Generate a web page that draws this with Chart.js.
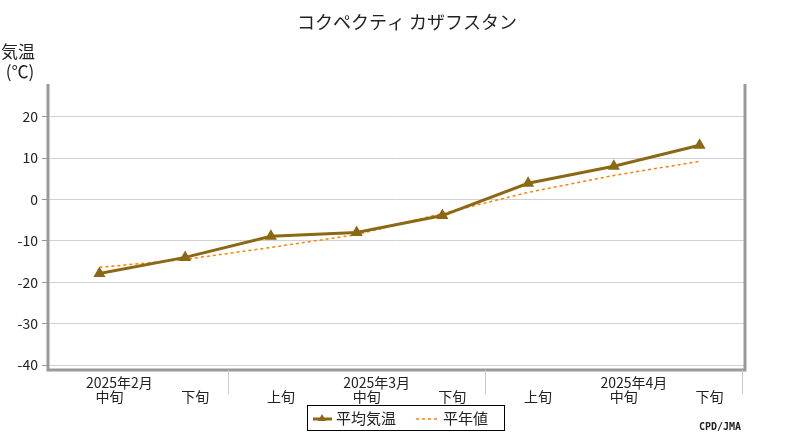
<!DOCTYPE html>
<html>
<head>
<meta charset="utf-8">
<script src="https://cdn.jsdelivr.net/npm/chart.js@4"></script>
<style>
  body { margin: 0; background: #fff; }
  #wrap { width: 800px; height: 440px; }
</style>
</head>
<body>
<div id="wrap"><canvas id="c" width="800" height="440"></canvas></div>
<script>
'use strict';
const months = ['2025年2月', '', '', '2025年3月', '', '', '2025年4月', ''];
const dekads = ['中旬', '下旬', '上旬', '中旬', '下旬', '上旬', '中旬', '下旬'];
const meanTemp = [-17.9, -14.0, -8.9, -8.0, -3.9, 3.9, 8.0, 13.1];
const normalTemp = [-16.4, -14.5, -11.6, -8.5, -3.4, 1.7, 5.8, 9.2];
const yTicks = [-40, -30, -20, -10, 0, 10, 20];
const monthBreaks = [1.5, 4.5, 7.5];

const FONT = '"Noto Sans CJK JP", "DejaVu Sans", sans-serif';
const BROWN = '#8b6914';
const ORANGE = '#ff8000';

const decorations = {
  id: 'decorations',
  afterDraw(chart) {
    const ctx = chart.ctx;
    const a = chart.chartArea;
    const xs = chart.scales.x;
    ctx.save();
    // frame
    ctx.strokeStyle = '#999';
    ctx.lineWidth = 3;
    ctx.beginPath();
    ctx.moveTo(a.left, a.top - 2);
    ctx.lineTo(a.left, a.bottom);
    ctx.lineTo(a.right, a.bottom);
    ctx.lineTo(a.right, a.top - 2);
    ctx.stroke();
    // month separators
    ctx.strokeStyle = '#ccc';
    ctx.lineWidth = 1;
    monthBreaks.forEach(b => {
      const x = Math.round(xs.getPixelForValue(b)) + 0.5;
      ctx.beginPath();
      ctx.moveTo(x, a.bottom);
      ctx.lineTo(x, a.bottom + 24);
      ctx.stroke();
    });
    // x labels
    ctx.fillStyle = '#222';
    ctx.font = '14px ' + FONT;
    ctx.textAlign = 'center';
    ctx.textBaseline = 'middle';
    months.forEach((m, i) => {
      const x = xs.getPixelForValue(i);
      if (m) ctx.fillText(m, x + 20, a.bottom + 13);
      ctx.fillText(dekads[i], x + 10, a.bottom + 27);
    });
    // title
    ctx.font = '18px ' + FONT;
    ctx.fillText('コクペクティ カザフスタン', 407, 22);
    // y title
    ctx.font = '17px ' + FONT;
    ctx.fillText('気温', 18, 52);
    ctx.fillText('(℃)', 20, 72);
    // legend
    ctx.strokeStyle = '#000';
    ctx.lineWidth = 1;
    ctx.strokeRect(307.5, 405.5, 197, 25);
    ctx.strokeStyle = BROWN;
    ctx.lineWidth = 3;
    ctx.beginPath(); ctx.moveTo(313, 419); ctx.lineTo(332, 419); ctx.stroke();
    ctx.fillStyle = BROWN;
    ctx.beginPath(); ctx.moveTo(322, 414); ctx.lineTo(326, 421); ctx.lineTo(318, 421); ctx.closePath(); ctx.fill();
    ctx.strokeStyle = ORANGE;
    ctx.lineWidth = 1.5;
    ctx.setLineDash([3, 3]);
    ctx.beginPath(); ctx.moveTo(416, 419); ctx.lineTo(438, 419); ctx.stroke();
    ctx.setLineDash([]);
    ctx.fillStyle = '#222';
    ctx.font = '15px ' + FONT;
    ctx.textAlign = 'left';
    ctx.fillText('平均気温', 336, 418);
    ctx.fillText('平年値', 443, 418);
    ctx.font = 'bold 10px "DejaVu Sans Mono", monospace';
    ctx.fillText('CPD/JMA', 699, 427);
    ctx.restore();
  }
};

new Chart(document.getElementById('c'), {
  type: 'line',
  data: {
    datasets: [
      {
        label: '平均気温',
        data: meanTemp.map((v, i) => ({ x: i, y: v })),
        borderColor: BROWN,
        backgroundColor: BROWN,
        borderWidth: 3,
        pointStyle: 'triangle',
        pointRadius: 4,
        tension: 0,
      },
      {
        label: '平年値',
        data: normalTemp.map((v, i) => ({ x: i, y: v })),
        borderColor: ORANGE,
        borderWidth: 1.5,
        borderDash: [3, 3],
        pointRadius: 0,
        tension: 0,
      },
    ],
  },
  options: {
    responsive: false,
    animation: false,
    layout: { padding: { top: 86, right: 55, left: 0, bottom: 0 } },
    plugins: { legend: { display: false }, tooltip: { enabled: false } },
    scales: {
      x: {
        type: 'linear',
        min: -0.6,
        max: 7.53,
        grid: { display: false },
        border: { display: false },
        ticks: { display: false },
        afterFit: s => { s.height = 70; },
      },
      y: {
        min: -41.2,
        max: 27.4,
        afterBuildTicks: s => { s.ticks = yTicks.map(v => ({ value: v })); },
        grid: { color: '#d0d0d0', drawTicks: true, tickLength: 6, tickColor: '#999' },
        border: { display: false },
        ticks: { color: '#222', font: { size: 14, family: FONT }, padding: 4 },
        afterFit: s => { s.width = 48; },
      },
    },
  },
  plugins: [decorations],
});
</script>
</body>
</html>
